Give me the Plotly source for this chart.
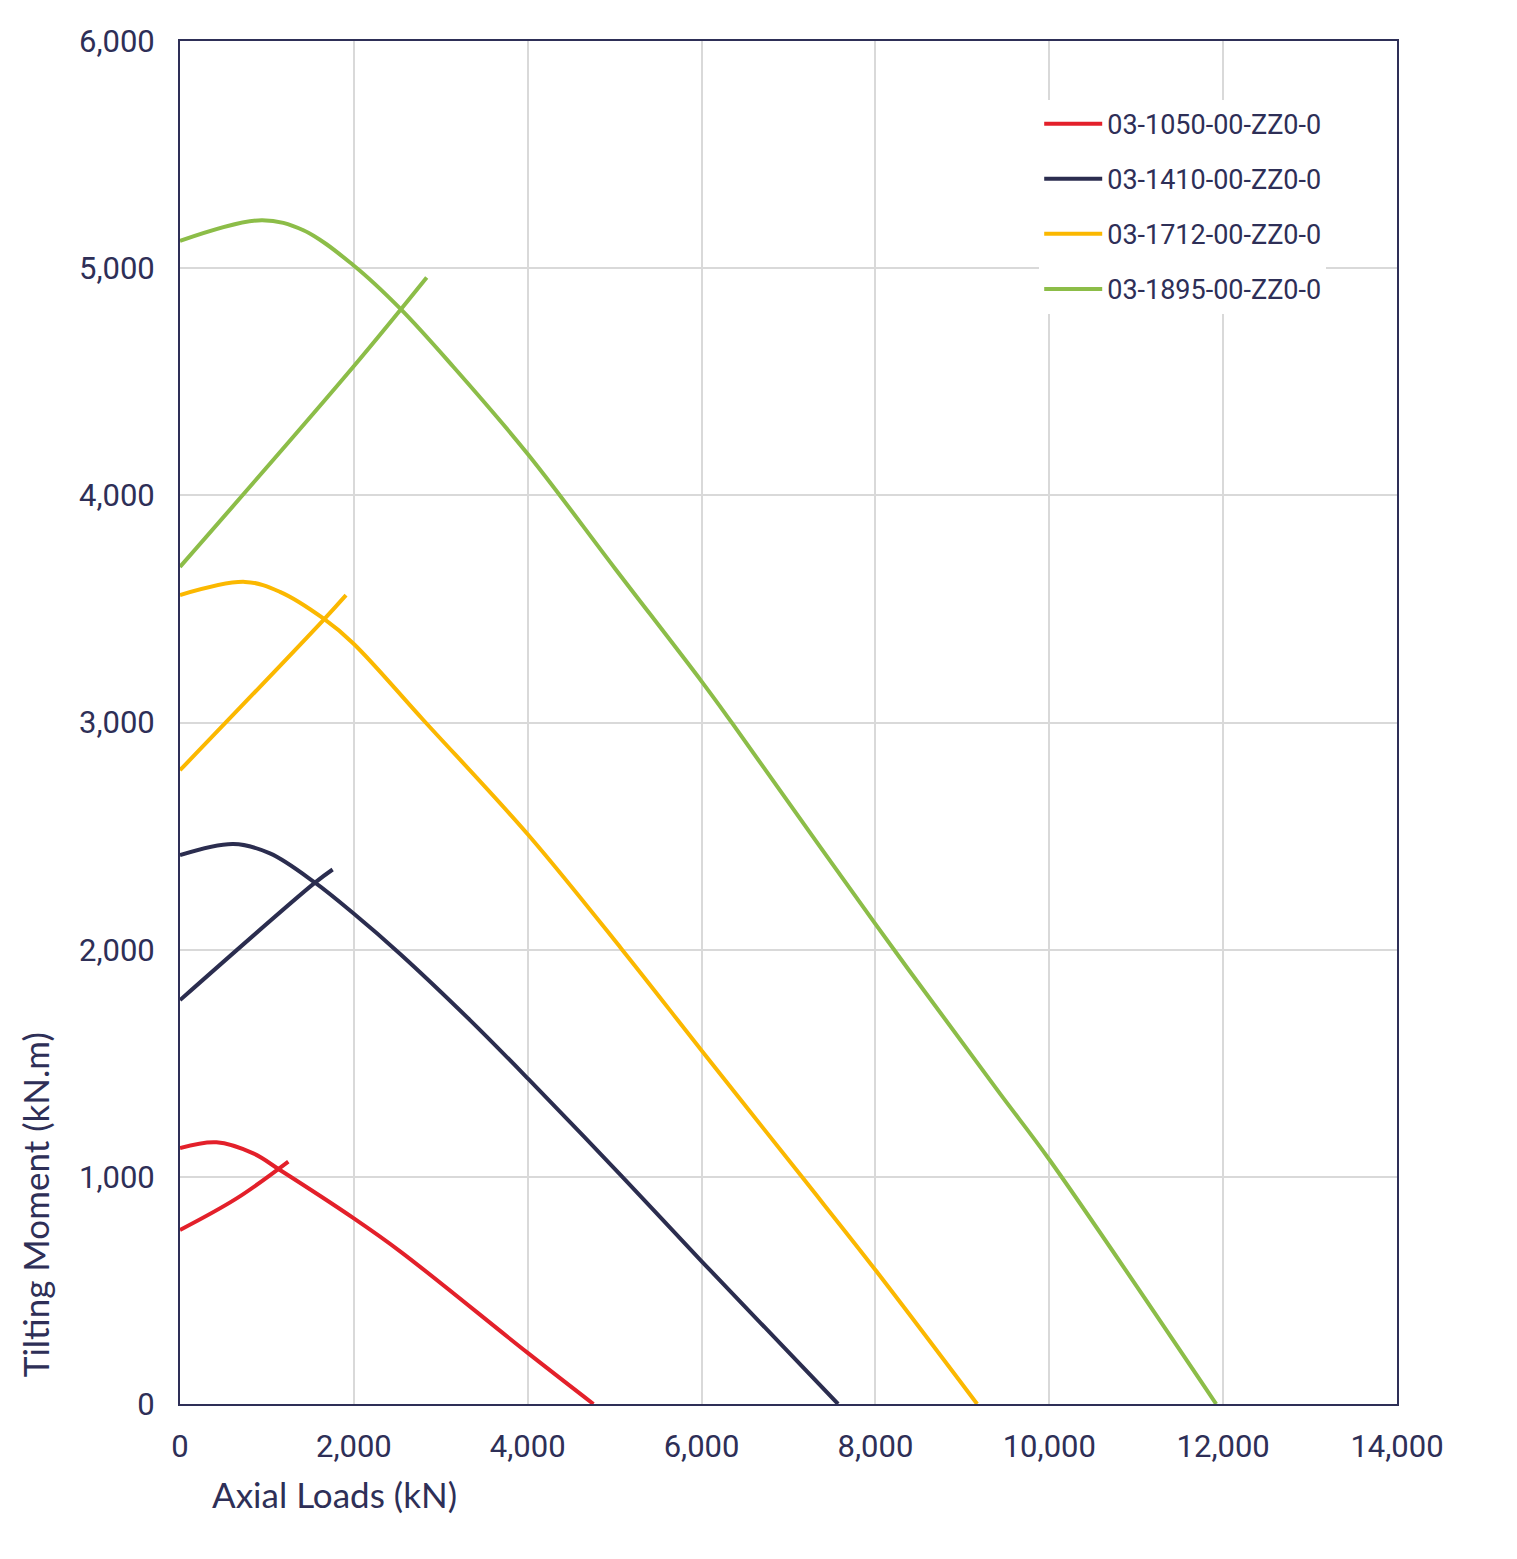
import plotly.graph_objects as go

# values (axial load kN, tilting moment kN.m)
names = ["03-1050-00-ZZ0-0", "03-1410-00-ZZ0-0", "03-1712-00-ZZ0-0", "03-1895-00-ZZ0-0"]
colors = ["#E3202A", "#2B2D4F", "#FBB800", "#8CBD48"]

# curved limit line of each series
red_curve_x = [0, 420, 843, 1150, 2000, 2536, 4000, 4756]
red_curve_y = [1127, 1152, 1103, 1030, 817, 671, 225, 0]
navy_curve_x = [0, 614, 1035, 1553, 1994, 2536, 3336, 4009, 5086, 6009, 7570]
navy_curve_y = [2416, 2465, 2424, 2295, 2160, 1980, 1690, 1430, 1001, 625, 0]
yellow_curve_x = [0, 748, 1150, 1649, 1994, 2799, 4000, 5086, 6009, 7152, 8000, 9170]
yellow_curve_y = [3561, 3619, 3575, 3458, 3348, 3011, 2508, 2000, 1552, 1001, 590, 0]
green_curve_x = [0, 940, 1419, 1994, 2531, 3144, 4000, 5006, 6000, 6354, 7984, 9416, 10006, 11920]
green_curve_y = [5120, 5211, 5167, 5013, 4823, 4566, 4182, 3677, 3181, 2996, 2121, 1375, 1073, 0]

# straight rising line of each series
red_line_x = [0, 652, 1246]
red_line_y = [766, 905, 1067]
navy_line_x = [0, 1553, 1756]
navy_line_y = [1778, 2295, 2353]
yellow_line_x = [0, 1649, 1910]
yellow_line_y = [2790, 3451, 3561]
green_line_x = [0, 1994, 2838]
green_line_y = [3685, 4566, 4959]

curves = [(red_curve_x, red_curve_y), (navy_curve_x, navy_curve_y),
          (yellow_curve_x, yellow_curve_y), (green_curve_x, green_curve_y)]
lines = [(red_line_x, red_line_y), (navy_line_x, navy_line_y),
         (yellow_line_x, yellow_line_y), (green_line_x, green_line_y)]

ink = "#2E2F57"
narrow = "Roboto, Liberation Sans Narrow, DejaVu Sans"
tick_font = dict(family=narrow, size=31, color=ink)

fig = go.Figure()
for name, color, (cx, cy), (lx, ly) in zip(names, colors, curves, lines):
    fig.add_trace(go.Scatter(
        x=cx + [None] + lx,
        y=cy + [None] + ly,
        mode="lines",
        name=name,
        legendgroup=name,
        connectgaps=False,
        line=dict(color=color, width=4, shape="spline", smoothing=1.0),
    ))

fig.update_layout(
    width=1517, height=1559,
    margin=dict(l=172, r=128, t=33, b=163),
    paper_bgcolor="white",
    plot_bgcolor="white",
    showlegend=True,
    legend=dict(
        x=0.706, y=0.957, xanchor="left", yanchor="top",
        bgcolor="white",
        font=dict(family=narrow, size=27, color=ink),
        tracegroupgap=17,
        itemwidth=58,
        borderwidth=0,
    ),
    annotations=[
        dict(text="Axial Loads (kN)", xref="paper", yref="paper", x=0.025, y=-0.066,
             xanchor="left", yanchor="middle", showarrow=False,
             font=dict(family="Lato, Noto Sans", size=35, color=ink)),
        dict(text="Tilting Moment (kN.m)", xref="paper", yref="paper", x=-0.119, y=0.018,
             xanchor="center", yanchor="bottom", textangle=-90, showarrow=False,
             font=dict(family="Lato, Noto Sans", size=35, color=ink)),
    ],
)

fig.update_xaxes(
    range=[0, 14000], dtick=2000, tickformat=",",
    showgrid=True, gridcolor="#D9D9D9", gridwidth=2,
    showline=True, linecolor=ink, linewidth=2, mirror=True,
    zeroline=False, ticks="", ticklabelstandoff=14,
    tickfont=tick_font,
)
fig.update_yaxes(
    range=[0, 6000], dtick=1000, tickformat=",",
    showgrid=True, gridcolor="#D9D9D9", gridwidth=2,
    showline=True, linecolor=ink, linewidth=2, mirror=True,
    zeroline=False, ticks="", ticklabelstandoff=17,
    tickfont=tick_font,
)

fig.write_html("out.html")
